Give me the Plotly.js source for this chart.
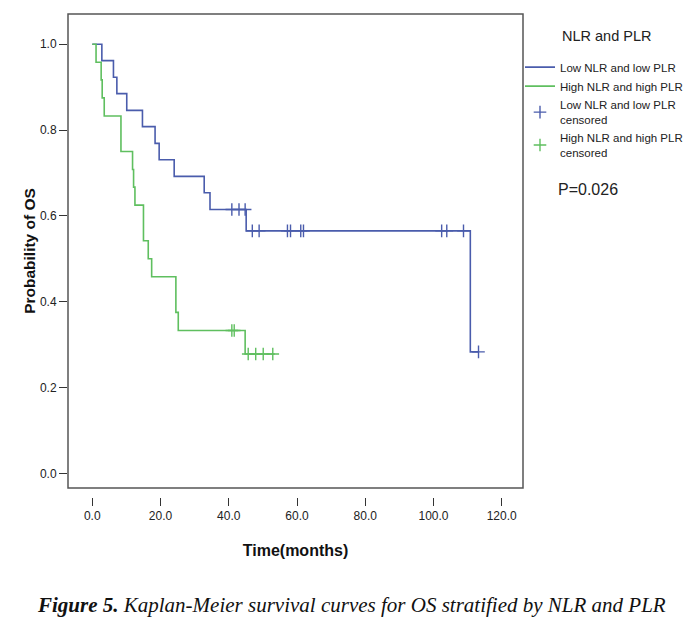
<!DOCTYPE html>
<html>
<head>
<meta charset="utf-8">
<script src="https://cdn.plot.ly/plotly-3.0.1.min.js"></script>
<style>
html,body{margin:0;padding:0;background:#fff;}
#chart{width:686px;height:619px;}
</style>
</head>
<body>
<div id="chart"></div>
<script>
// Low NLR and low PLR: event times (months) and survival
var lowTimes = [0, 2.8, 6.2, 7.2, 10.1, 14.7, 18.4, 19.6, 24.0, 32.8, 34.5, 45.1, 110.8, 113.2];
var lowSurv  = [1.0, 0.962, 0.923, 0.885, 0.846, 0.808, 0.769, 0.731, 0.692, 0.654, 0.615, 0.565, 0.283, 0.283];
// High NLR and high PLR
var highTimes = [0, 1.1, 2.6, 2.9, 3.5, 8.4, 11.8, 12.1, 12.5, 15.0, 16.4, 17.4, 24.5, 25.2, 44.8, 53.5];
var highSurv  = [1.0, 0.958, 0.917, 0.875, 0.833, 0.750, 0.708, 0.667, 0.625, 0.542, 0.500, 0.458, 0.375, 0.333, 0.278, 0.278];
// Censored observations
var lowCensTimes = [40.9, 43.0, 44.8, 46.9, 48.9, 57.2, 58.1, 61.1, 61.9, 102.4, 103.9, 108.8, 113.2];
var lowCensSurv  = [0.615, 0.615, 0.615, 0.565, 0.565, 0.565, 0.565, 0.565, 0.565, 0.565, 0.565, 0.565, 0.283];
var highCensTimes = [40.9, 41.6, 45.7, 47.9, 50.1, 52.9];
var highCensSurv  = [0.333, 0.333, 0.278, 0.278, 0.278, 0.278];

var seriesNames = ["Low NLR and low PLR", "High NLR and high PLR",
                   "Low NLR and low PLR<br>censored", "High NLR and high PLR<br>censored"];
var xTicks = [0, 20, 40, 60, 80, 100, 120];
var yTicks = [0, 0.2, 0.4, 0.6, 0.8, 1.0];

var BLUE = "#4a5cac", GREEN = "#5fbf5f";

var traces = [
  {x: lowTimes, y: lowSurv, mode: "lines", line: {shape: "hv", color: BLUE, width: 1.6}, name: seriesNames[0]},
  {x: highTimes, y: highSurv, mode: "lines", line: {shape: "hv", color: GREEN, width: 1.6}, name: seriesNames[1]},
  {x: lowCensTimes, y: lowCensSurv, mode: "markers", marker: {symbol: "cross-thin-open", size: 9, color: BLUE, line: {color: BLUE, width: 1.4}}, name: seriesNames[2]},
  {x: highCensTimes, y: highCensSurv, mode: "markers", marker: {symbol: "cross-thin-open", size: 9, color: GREEN, line: {color: GREEN, width: 1.4}}, name: seriesNames[3]}
];

var layout = {
  width: 686, height: 619,
  margin: {l: 68, r: 163, t: 14, b: 122, autoexpand: false},
  paper_bgcolor: "#fff", plot_bgcolor: "#fff",
  font: {family: "Liberation Sans, Arial, sans-serif", color: "#222"},
  xaxis: {
    range: [-7.12, 126.24], anchor: "free", position: 0,
    tickvals: xTicks, tickformat: ".1f", ticks: "outside", ticklen: 8, tickwidth: 1.3, tickcolor: "#333",
    showgrid: false, zeroline: false, showline: false,
    tickfont: {size: 12, color: "#222"},
    title: {text: "<b>Time(months)</b>", font: {size: 16, color: "#111"}, standoff: 22}
  },
  yaxis: {
    range: [-0.0343, 1.0706], domain: [0.0186, 1],
    tickvals: yTicks, tickformat: ".1f", ticks: "outside", ticklen: 8, tickwidth: 1.3, tickcolor: "#333",
    showgrid: false, zeroline: false, showline: false,
    tickfont: {size: 12, color: "#222"},
    title: {text: "<b>Probability of OS</b>", font: {size: 15.5, color: "#111"}, standoff: 0}
  },
  shapes: [
    {type: "rect", xref: "x domain", yref: "y domain", x0: 0, x1: 1, y0: 0, y1: 1,
     line: {color: "#555", width: 1.5}, fillcolor: "rgba(0,0,0,0)"}
  ],
  showlegend: true,
  legend: {
    x: 0.9934, y: 0.92, xanchor: "left", yanchor: "top",
    font: {size: 11.5, color: "#222"}, itemwidth: 30, tracegroupgap: 0,
    bgcolor: "rgba(0,0,0,0)"
  },
  annotations: [
    {text: "NLR and PLR", xref: "paper", yref: "paper", x: 1.1846, y: 0.954, xanchor: "center", yanchor: "middle",
     showarrow: false, font: {size: 14.5, color: "#222"}},
    {text: "P=0.026", xref: "paper", yref: "paper", x: 1.0725, y: 0.636, xanchor: "left", yanchor: "middle",
     showarrow: false, font: {size: 16, color: "#222"}},
    {text: "<b><i>Figure 5.</i></b><i> Kaplan-Meier survival curves for OS stratified by NLR and PLR</i>",
     xref: "paper", yref: "paper", x: 0.6226, y: -0.2236, xanchor: "center", yanchor: "middle",
     showarrow: false, font: {family: "Liberation Serif, Times New Roman, serif", size: 21, color: "#111"}}
  ]
};

Plotly.newPlot("chart", traces, layout, {displayModeBar: false, responsive: false});
</script>
</body>
</html>
